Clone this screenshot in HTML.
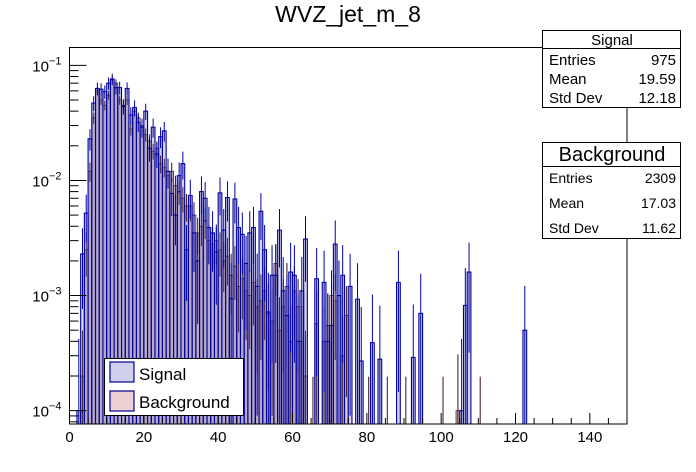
<!DOCTYPE html>
<html><head><meta charset="utf-8"><style>
html,body{margin:0;padding:0;background:#fff;}
svg{display:block;font-family:"Liberation Sans",sans-serif;}
</style></head><body>
<svg id="chart" width="696" height="472" viewBox="0 0 696 472" xmlns="http://www.w3.org/2000/svg">
<defs>
<clipPath id="clip"><rect x="69" y="47" width="558" height="377"/></clipPath>
</defs>
<rect x="0" y="0" width="696" height="472" fill="#fff"/>
<text x="348" y="22" font-size="23" text-anchor="middle">WVZ_jet_m_8</text>
<g id="bars" clip-path="url(#clip)"></g>
<g id="axes"></g>
<g>
<rect x="542.5" y="30.5" width="138" height="77" fill="#fff" stroke="#000" stroke-width="1"/>
<line x1="542" y1="48.5" x2="681" y2="48.5" stroke="#000"/>
<text x="612" y="45" font-size="15" text-anchor="middle">Signal</text>
<text x="549" y="65" font-size="15">Entries</text><text x="676" y="65" font-size="15" text-anchor="end">975</text>
<text x="549" y="84" font-size="15">Mean</text><text x="676" y="84" font-size="15" text-anchor="end">19.59</text>
<text x="549" y="103" font-size="15">Std Dev</text><text x="676" y="103" font-size="15" text-anchor="end">12.18</text>
</g>
<g>
<rect x="542.5" y="142.5" width="138" height="96" fill="#fff" stroke="#000" stroke-width="1"/>
<line x1="542" y1="166.5" x2="681" y2="166.5" stroke="#000"/>
<text x="612" y="161" font-size="20" text-anchor="middle">Background</text>
<text x="549" y="183" font-size="14">Entries</text><text x="676" y="183" font-size="14" text-anchor="end">2309</text>
<text x="549" y="208" font-size="14">Mean</text><text x="676" y="208" font-size="14" text-anchor="end">17.03</text>
<text x="549" y="233" font-size="14">Std Dev</text><text x="676" y="233" font-size="14" text-anchor="end">11.62</text>
</g>
<g>
<rect x="104.5" y="358.5" width="139" height="57" fill="#fff" stroke="#000" stroke-width="1"/>
<rect x="110" y="362" width="24" height="20" fill="#cfcfea" stroke="#00008b" stroke-width="1.2"/>
<text x="139" y="380" font-size="17">Signal</text>
<rect x="110" y="391" width="24" height="20" fill="#ecd0d2" stroke="#00008b" stroke-width="1.2"/>
<text x="139" y="408" font-size="17">Background</text>
</g>
</svg>
<script>
const binEdgesMin = 0;
const binEdgesMax = 150;
const signalValues = [0,0,0.0001,0.0023,0.0052,0.023,0.047,0.063,0.062,0.059,0.07,0.076,0.064,0.064,0.044,0.063,0.037,0.043,0.032,0.029,0.04,0.019,0.029,0.017,0.024,0.027,0.012,0.0077,0.005,0.011,0.014,0.0025,0.0074,0.0035,0.002,0.008,0.007,0.0039,0.0035,0.0024,0.0078,0.0037,0.0071,0.00094,0.0069,0.0039,0.0034,0.0019,0.0035,0.0039,0.0012,0.0054,0.0025,0.00072,0.0015,0.0015,0.0037,0.0011,0.00067,0.0016,0.0015,0.0004,0.0011,0.0031,0,0,0.0014,0,0.0013,0.0004,0.00055,0.0028,0.001,0.0015,0,0.0012,0,0.00093,0.00027,0,0,0.00039,0,0.00028,0,0,0,0,0.0013,0,0,0,0.00029,0,0.0007,0,0,0,0,0,0,0,0,0,0,0.0001,0.00082,0.0016,0,0,0,0,0,0,0,0,0,0,0,0,0,0,0.0005];
const backgroundValues = [0,0,0,0.0002,0.0025,0.012,0.035,0.06,0.05,0.045,0.055,0.075,0.07,0.05,0.045,0.05,0.028,0.04,0.035,0.03,0.025,0.022,0.018,0.019,0.014,0.013,0.011,0.012,0.009,0.008,0.007,0.006,0.006,0.005,0.0035,0.004,0.0045,0.003,0.0028,0.003,0.0025,0.002,0.0022,0.0015,0.0018,0.0012,0.0014,0.0011,0.001,0.0013,0.0008,0.0009,0.0011,0.0007,0.0006,0.0019,0.0005,0.0008,0.0012,0.0004,0.0011,0.0008,0.0004,0.0002,0,0.00005,0.00057,0,0.0004,0.00055,0.001,0.0009,0,0.0003,0.00067,0,0,0,0,0,0.00005,0,0,0,0,0.00005,0,0,0,0,0.00005,0,0,0,0,0,0,0,0,0,0.00005,0,0,0,0.0001,0,0,0,0,0,0.00005];
const signalEntries = 975;
const backgroundEntries = 2309;
const xTickLabels = [0,20,40,60,80,100,120,140];
const yDecades = [-1,-2,-3,-4];

const X0=69.5, X1=627, Y0=424, Y1=47.5;
const LOGMIN=-4.116, LOGMAX=-0.845;
function xs(v){return X0+(v-binEdgesMin)/(binEdgesMax-binEdgesMin)*(X1-X0);}
function ys(v){if(v<=0)return Y0+50;const l=Math.log10(v);return Y0-(l-LOGMIN)/(LOGMAX-LOGMIN)*(Y0-Y1);}
const NS="http://www.w3.org/2000/svg";
function mk(tag,attrs,parent){const e=document.createElementNS(NS,tag);for(const k in attrs)e.setAttribute(k,attrs[k]);parent.appendChild(e);return e;}
const bars=document.getElementById('bars');
function drawSeries(vals,entries,fill,stroke,ebColor,name,sw){
  const g=mk('g',{},bars);
  
  
  for(let i=0;i<vals.length;i++){
    const v=vals[i]; if(v<=0) continue;
    const xa=xs(i), xb=xs(i+1), yv=ys(v);
    const r=mk('rect',{x:xa,y:yv,width:xb-xa,height:Math.max(0,Y0-yv),fill:fill,stroke:stroke,'stroke-width':sw},g);
    
    
    const err=Math.sqrt(v/entries);
    const xc=(xa+xb)/2;
    const l=mk('line',{x1:xc,x2:xc,y1:ys(v+err),y2:(v-err>0?ys(v-err):Y0+5),stroke:ebColor,'stroke-width':1},g);
    
    
  }
}
drawSeries(backgroundValues,backgroundEntries,'rgba(175,140,148,0.5)','#4a2030','#3a1010','background',0.8);
drawSeries(signalValues,signalEntries,'rgba(100,100,170,0.28)','#0000a0','#0000a8','signal',1.1);

const axes=document.getElementById('axes');
const fr=mk('rect',{x:X0,y:Y1,width:X1-X0,height:Y0-Y1,fill:'none',stroke:'#000','stroke-width':1},axes);


for(let v=0;v<=binEdgesMax;v+=5){
  const x=xs(v); const major=(v%20===0);
  mk('line',{x1:x,x2:x,y1:Y0,y2:Y0-(major?11:6),stroke:'#000','stroke-width':1},axes);
}
xTickLabels.forEach(v=>{
  const t=mk('text',{x:xs(v),y:Y0+18,'font-size':15,'text-anchor':'middle'},axes);
  t.textContent=v;
  
  
});
for(let d=-5;d<=-1;d++){
  for(let m=1;m<=9;m++){
    const v=m*Math.pow(10,d); const l=Math.log10(v);
    if(l<LOGMIN||l>LOGMAX) continue;
    const y=ys(v);
    mk('line',{x1:X0,x2:X0+(m===1?17:9),y1:y,y2:y,stroke:'#000','stroke-width':1},axes);
  }
}
yDecades.forEach(d=>{
  const y=ys(Math.pow(10,d));
  const t=mk('text',{x:X0-8,y:y+6,'font-size':15,'text-anchor':'end'},axes);
  
  
  const a=document.createElementNS(NS,'tspan'); a.textContent='10'; t.appendChild(a);
  const b=document.createElementNS(NS,'tspan'); b.setAttribute('dy','-7'); b.setAttribute('font-size','11'); b.textContent='\u2212'+(-d); t.appendChild(b);
});
</script>
</body></html>
